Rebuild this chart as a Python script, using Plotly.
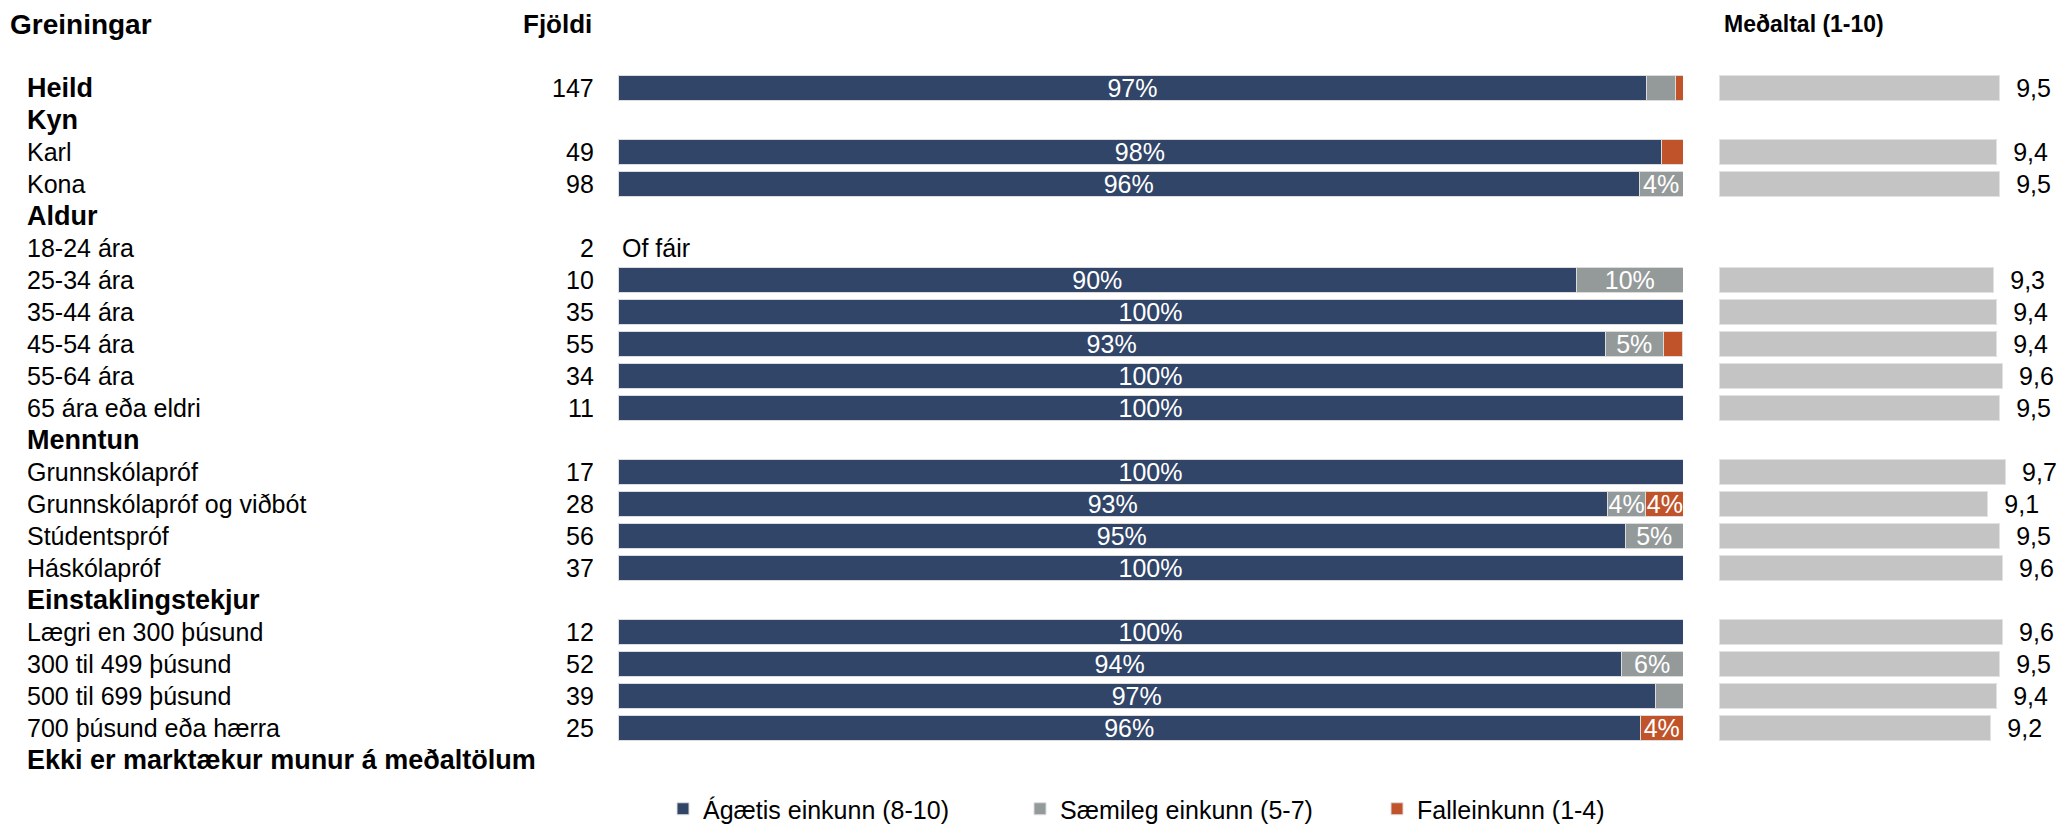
import plotly.graph_objects as go

# ── data ──────────────────────────────────────────────────────────────────
LABELS = ["Heild", "Kyn", "Karl", "Kona", "Aldur", "18-24 ára", "25-34 ára", "35-44 ára",
          "45-54 ára", "55-64 ára", "65 ára eða eldri", "Menntun", "Grunnskólapróf",
          "Grunnskólapróf og viðbót", "Stúdentspróf", "Háskólapróf", "Einstaklingstekjur",
          "Lægri en 300 þúsund", "300 til 499 þúsund", "500 til 699 þúsund",
          "700 þúsund eða hærra", "Ekki er marktækur munur á meðaltölum"]
BOLD = {"Heild", "Kyn", "Aldur", "Menntun", "Einstaklingstekjur",
        "Ekki er marktækur munur á meðaltölum"}
COUNTS = [147, None, 49, 98, None, 2, 10, 35, 55, 34, 11, None, 17, 28, 56, 37, None,
          12, 52, 39, 25, None]
GOOD = [96.6, None, 98.0, 95.9, None, None, 90, 100, 92.7, 100, 100, None, 100, 92.9,
        94.6, 100, None, 100, 94.2, 97.4, 96, None]
FAIR = [2.7, None, 0, 4.1, None, None, 10, 0, 5.45, 0, 0, None, 0, 3.6, 5.4, 0, None,
        0, 5.8, 2.6, 0, None]
FAIL = [0.7, None, 2.0, 0, None, None, 0, 0, 1.8, 0, 0, None, 0, 3.6, 0, 0, None,
        0, 0, 0, 4, None]
MEANS = [9.5, None, 9.4, 9.5, None, None, 9.3, 9.4, 9.4, 9.6, 9.5, None, 9.7, 9.1, 9.5,
         9.6, None, 9.6, 9.5, 9.4, 9.2, None]
TOO_FEW = {"18-24 ára": "Of fáir"}

SERIES = [("Ágætis einkunn (8-10)", GOOD, "#314568"),
          ("Sæmileg einkunn (5-7)", FAIR, "#949A9A"),
          ("Falleinkunn (1-4)", FAIL, "#C0532A")]

# ── geometry (pixels of the 2064x832 canvas) ──────────────────────────────
W, H = 2064, 832
FONT = "Liberation Sans, Arial, sans-serif"
FS = 25
rows = list(range(len(LABELS)))


def pct_text(v):
    return "" if v is None or v < 3.5 else f"{round(v)}%"


fig = go.Figure()
for name, vals, col in SERIES:
    fig.add_trace(go.Bar(
        y=rows, x=vals, name=name, orientation="h", marker_color=col,
        marker_line=dict(color="#dcdcdc", width=1), width=0.77,
        text=[pct_text(v) for v in vals], textposition="inside", insidetextanchor="middle",
        textfont=dict(color="white", size=FS, family=FONT), constraintext="none",
        hoverinfo="skip", xaxis="x", yaxis="y"))

fig.add_trace(go.Bar(
    y=rows, x=MEANS, orientation="h", marker_color="#C4C4C4",
    marker_line=dict(color="#e2e2e2", width=1), width=0.77, showlegend=False,
    text=["" if m is None else "\u00a0\u00a0" + f"{m:.1f}".replace(".", ",") for m in MEANS],
    textposition="outside", textfont=dict(color="black", size=FS, family=FONT),
    constraintext="none", cliponaxis=False, hoverinfo="skip", xaxis="x2", yaxis="y"))

ann = []
for i, lab in enumerate(LABELS):
    bold = lab in BOLD
    txt = f"<b>{lab}</b>" if bold else lab
    ann.append(dict(x=25 / W, y=i, xref="paper", yref="y", text=txt, showarrow=False,
                    xanchor="left", yanchor="middle", font=dict(size=27 if bold else FS)))
    if COUNTS[i] is not None:
        ann.append(dict(x=596 / W, y=i, xref="paper", yref="y", text=str(COUNTS[i]),
                        showarrow=False, xanchor="right", yanchor="middle", font=dict(size=FS)))
    if lab in TOO_FEW:
        ann.append(dict(x=620 / W, y=i, xref="paper", yref="y", text=TOO_FEW[lab],
                        showarrow=False, xanchor="left", yanchor="middle", font=dict(size=FS)))

for txt, x, anchor, size in [("Greiningar", 8, "left", 28), ("Fjöldi", 594, "right", 26),
                             ("Meðaltal (1-10)", 1722, "left", 23)]:
    ann.append(dict(x=x / W, y=1 - 24 / H, xref="paper", yref="paper", text=f"<b>{txt}</b>",
                    showarrow=False, xanchor=anchor, yanchor="middle", font=dict(size=size)))

fig.update_layout(
    width=W, height=H, barmode="stack", bargap=0.2,
    margin=dict(l=0, r=0, t=0, b=0),
    plot_bgcolor="white", paper_bgcolor="white",
    font=dict(family=FONT, size=FS, color="black"),
    xaxis=dict(domain=[618 / W, 1683 / W], range=[0, 100], visible=False, fixedrange=True),
    xaxis2=dict(domain=[1719 / W, 2014 / W], range=[0, 10], visible=False, anchor="y",
                fixedrange=True),
    yaxis=dict(domain=[0, 1], range=[23.25, -2.75], visible=False, fixedrange=True),
    showlegend=True,
    legend=dict(orientation="h", x=663 / W, xanchor="left", y=0, yanchor="bottom",
                font=dict(size=FS, family=FONT), entrywidth=312, traceorder="normal",
                bgcolor="rgba(0,0,0,0)"),
    annotations=ann,
)

fig.write_html("out.html", config={"displayModeBar": False},
               post_script="document.body.style.margin='0';")
